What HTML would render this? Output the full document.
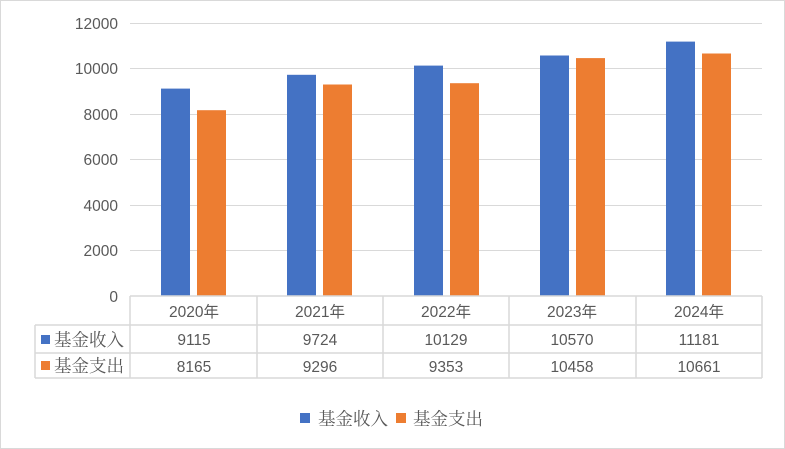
<!DOCTYPE html>
<html><head><meta charset="utf-8"><style>
html,body{margin:0;padding:0;background:#fff}
svg{display:block}
text{font-family:"Liberation Sans","Noto Sans CJK SC",sans-serif;fill:#595959;font-size:15.5px}
.cj{font-family:"Liberation Serif","Noto Serif CJK SC",serif;font-size:17.5px}
</style></head><body>
<svg width="785" height="449" xmlns="http://www.w3.org/2000/svg">
<rect x="0.5" y="0.5" width="784" height="448" fill="#fff" stroke="#d9d9d9"/>
<g stroke="#d9d9d9" stroke-width="1">
<line x1="130" x2="762" y1="23.5" y2="23.5"/>
<line x1="130" x2="762" y1="68.5" y2="68.5"/>
<line x1="130" x2="762" y1="114.5" y2="114.5"/>
<line x1="130" x2="762" y1="159.5" y2="159.5"/>
<line x1="130" x2="762" y1="205.5" y2="205.5"/>
<line x1="130" x2="762" y1="250.5" y2="250.5"/>
</g>
<g text-anchor="end">
<text x="118" y="29">12000</text>
<text x="118" y="74">10000</text>
<text x="118" y="120">8000</text>
<text x="118" y="165">6000</text>
<text x="118" y="211">4000</text>
<text x="118" y="256">2000</text>
<text x="118" y="302">0</text>
</g>
<g>
<rect x="161" y="88.6" width="29" height="207.4" fill="#4472c4"/>
<rect x="197" y="110.2" width="29" height="185.8" fill="#ed7d31"/>
<rect x="287" y="74.8" width="29" height="221.2" fill="#4472c4"/>
<rect x="323" y="84.5" width="29" height="211.5" fill="#ed7d31"/>
<rect x="414" y="65.6" width="29" height="230.4" fill="#4472c4"/>
<rect x="450" y="83.2" width="29" height="212.8" fill="#ed7d31"/>
<rect x="540" y="55.5" width="29" height="240.5" fill="#4472c4"/>
<rect x="576" y="58.1" width="29" height="237.9" fill="#ed7d31"/>
<rect x="666" y="41.6" width="29" height="254.4" fill="#4472c4"/>
<rect x="702" y="53.5" width="29" height="242.5" fill="#ed7d31"/>
</g>
<g stroke="#d9d9d9" stroke-width="1.5" fill="none">
<line x1="130" x2="762" y1="296" y2="296"/>
<line x1="35" x2="762" y1="325" y2="325"/>
<line x1="35" x2="762" y1="353" y2="353"/>
<line x1="35" x2="762" y1="378" y2="378"/>
<line x1="35" x2="35" y1="325" y2="378"/>
<line x1="130" x2="130" y1="296" y2="378"/>
<line x1="257" x2="257" y1="296" y2="378"/>
<line x1="383" x2="383" y1="296" y2="378"/>
<line x1="509" x2="509" y1="296" y2="378"/>
<line x1="636" x2="636" y1="296" y2="378"/>
<line x1="762" x2="762" y1="296" y2="378"/>
</g>
<g text-anchor="middle">
<text x="194" y="317">2020年</text><text x="320" y="317">2021年</text><text x="446" y="317">2022年</text><text x="572" y="317">2023年</text><text x="699" y="317">2024年</text>
<text x="194" y="345">9115</text><text x="320" y="345">9724</text><text x="446" y="345">10129</text><text x="572" y="345">10570</text><text x="699" y="345">11181</text>
<text x="194" y="372">8165</text><text x="320" y="372">9296</text><text x="446" y="372">9353</text><text x="572" y="372">10458</text><text x="699" y="372">10661</text>
</g>
<rect x="41" y="335" width="9" height="9" fill="#4472c4"/>
<text x="54" y="346" class="cj">基金收入</text>
<rect x="41" y="361" width="9" height="9" fill="#ed7d31"/>
<text x="54" y="372" class="cj">基金支出</text>
<rect x="300" y="413" width="10" height="10" fill="#4472c4"/>
<text x="318" y="425" class="cj">基金收入</text>
<rect x="396" y="413" width="10" height="10" fill="#ed7d31"/>
<text x="413" y="425" class="cj">基金支出</text>
</svg>
</body></html>
